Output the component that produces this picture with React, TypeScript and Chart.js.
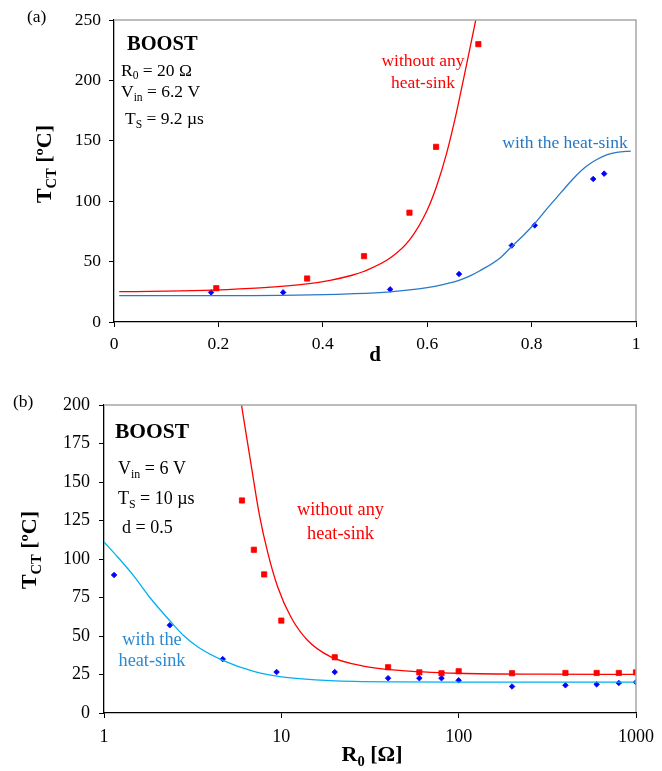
import React, { useEffect, useRef } from "react";
import { Chart, registerables } from "chart.js";
Chart.register(...registerables);

const SERIF = "'Liberation Serif', 'Times New Roman', Times, serif";

// ---------- Panel (a) data ----------
const A_X_TICKS = [0, 0.2, 0.4, 0.6, 0.8, 1];
const A_Y_TICKS = [0, 50, 100, 150, 200, 250];
const A_RED_PTS_D = [0.196, 0.37, 0.479, 0.566, 0.617, 0.698];
const A_RED_PTS_T = [28, 36, 54.5, 90.5, 145, 230];
const A_BLUE_PTS_D = [0.186, 0.324, 0.529, 0.661, 0.762, 0.806, 0.918, 0.939];
const A_BLUE_PTS_T = [24.5, 24.5, 27, 39.7, 63.3, 80, 118.4, 122.8];
const A_RED_CURVE_D = [0.01, 0.1, 0.19, 0.28, 0.37, 0.414, 0.456, 0.478, 0.529, 0.567, 0.599, 0.618, 0.637, 0.656, 0.672, 0.693];
const A_RED_CURVE_T = [25.1, 25.5, 26.4, 28.2, 31.5, 34.5, 38.7, 41.8, 52.9, 68.4, 91.7, 112.4, 139.4, 173.4, 206, 250];
const A_BLUE_CURVE_D = [0.01, 0.2, 0.35, 0.45, 0.529, 0.6, 0.63, 0.661, 0.68, 0.7, 0.739, 0.762, 0.785, 0.806, 0.83, 0.848, 0.866, 0.886, 0.905, 0.925, 0.945, 0.963, 0.99];
const A_BLUE_CURVE_T = [21.8, 21.8, 22.2, 23.3, 25, 28.5, 31, 34.5, 37.7, 42.2, 52.8, 62.5, 72, 81.5, 94, 103, 112, 121.5, 129, 134.5, 138.5, 140.5, 141.5];

// ---------- Panel (b) data ----------
const B_X_TICKS = [1, 10, 100, 1000];
const B_Y_TICKS = [0, 25, 50, 75, 100, 125, 150, 175, 200];
const B_RED_PTS_R = [6, 7, 8, 10, 20, 40, 60, 80, 100, 200, 400, 600, 800, 1000];
const B_RED_PTS_T = [138, 106, 90, 60, 36.2, 29.7, 26.4, 25.8, 27.1, 25.8, 26, 26, 26, 26.4];
const B_BLUE_PTS_R = [1.14, 2.35, 4.67, 9.4, 20, 40, 60, 80, 100, 200, 400, 600, 800, 1000];
const B_BLUE_PTS_T = [89.6, 57, 35, 26.6, 26.6, 22.6, 22.6, 22.6, 21.2, 17.2, 18, 18.6, 19.5, 19.9];
const B_RED_CURVE_R = [5.96, 6.78, 7.54, 8.39, 9.53, 11.3, 14, 18.9, 29, 44.4, 100, 300, 1000];
const B_RED_CURVE_T = [200, 160, 128, 104, 82, 62.5, 47.4, 36.6, 30.5, 27.9, 25.8, 25.2, 25.1];
const B_BLUE_CURVE_R = [1, 1.2, 1.46, 1.8, 2.33, 2.8, 3.42, 4.71, 7.07, 10, 18.9, 44.4, 100, 1000];
const B_BLUE_CURVE_T = [111, 101, 89.5, 75.5, 60.4, 50.5, 42.5, 34, 26.8, 23.5, 21, 20.2, 20.1, 20];

type Seg = { t: string; sub?: boolean };

function drawRich(
  ctx: CanvasRenderingContext2D,
  segs: Seg[],
  x: number,
  y: number,
  size: number,
  bold: boolean,
  align: "left" | "center",
  color: string
) {
  const b = bold ? "bold " : "";
  const subSize = size * 0.66;
  const fontFor = (s: Seg) => `${b}${s.sub ? subSize : size}px ${SERIF}`;
  let total = 0;
  const widths = segs.map((s) => {
    ctx.font = fontFor(s);
    const w = ctx.measureText(s.t).width;
    total += w;
    return w;
  });
  let cx = align === "center" ? x - total / 2 : x;
  ctx.fillStyle = color;
  ctx.textAlign = "left";
  ctx.textBaseline = "alphabetic";
  segs.forEach((s, i) => {
    ctx.font = fontFor(s);
    ctx.fillText(s.t, cx, s.sub ? y + size * 0.22 : y);
    cx += widths[i];
  });
}

function drawFrame(chart: any) {
  const { ctx, chartArea } = chart;
  ctx.save();
  ctx.strokeStyle = "#A6A6A6";
  ctx.lineWidth = 1.5;
  ctx.beginPath();
  ctx.moveTo(chartArea.left + 1, chartArea.top);
  ctx.lineTo(chartArea.right, chartArea.top);
  ctx.lineTo(chartArea.right, chartArea.bottom - 1);
  ctx.stroke();
  ctx.restore();
}

const pts = (xs: number[], ys: number[]) => xs.map((x, i) => ({ x, y: ys[i] }));

function lineDs(xs: number[], ys: number[], color: string) {
  return {
    data: pts(xs, ys),
    showLine: true,
    pointRadius: 0,
    borderColor: color,
    borderWidth: 1.3,
    cubicInterpolationMode: "monotone",
    fill: false,
  };
}
function redPts(xs: number[], ys: number[]) {
  return {
    data: pts(xs, ys),
    showLine: false,
    pointStyle: "rect",
    pointRadius: 3.7,
    backgroundColor: "#FF0000",
    borderColor: "#FF0000",
    borderWidth: 0.8,
  };
}
function bluePts(xs: number[], ys: number[]) {
  return {
    data: pts(xs, ys),
    showLine: false,
    pointStyle: "rectRot",
    pointRadius: 2.8,
    backgroundColor: "#0000FF",
    borderColor: "#0000FF",
    borderWidth: 0.8,
  };
}

function axisCommon(size: number, padding: number) {
  return {
    ticks: { font: { family: SERIF, size }, color: "#000", padding },
    grid: { drawOnChartArea: false, drawTicks: true, tickLength: 5, color: "#000", lineWidth: 1 },
    border: { display: true, color: "#000", width: 1.3 },
  };
}

function configA(): any {
  const fmt = (v: any) => String(Math.round(Number(v) * 10) / 10);
  return {
    type: "scatter",
    data: {
      datasets: [
        lineDs(A_RED_CURVE_D, A_RED_CURVE_T, "#FF0000"),
        lineDs(A_BLUE_CURVE_D, A_BLUE_CURVE_T, "#2878C8"),
        redPts(A_RED_PTS_D, A_RED_PTS_T),
        bluePts(A_BLUE_PTS_D, A_BLUE_PTS_T),
      ],
    },
    options: {
      responsive: false,
      animation: false,
      devicePixelRatio: 1,
      events: [],
      layout: { padding: { left: 0, right: 26, top: 20, bottom: 0 } },
      plugins: { legend: { display: false }, tooltip: { enabled: false } },
      scales: {
        x: {
          type: "linear",
          min: 0,
          max: 1,
          ...axisCommon(17.5, 7),
          afterBuildTicks: (s: any) => {
            s.ticks = A_X_TICKS.map((v) => ({ value: v }));
          },
          ticks: { ...axisCommon(17.5, 7).ticks, callback: fmt },
          afterFit: (s: any) => {
            s.height = 50;
          },
        },
        y: {
          type: "linear",
          min: 0,
          max: 250,
          ...axisCommon(17.5, 8),
          afterBuildTicks: (s: any) => {
            s.ticks = A_Y_TICKS.map((v) => ({ value: v }));
          },
          ticks: { ...axisCommon(17.5, 8).ticks, callback: (v: any) => String(v) },
          afterFit: (s: any) => {
            s.width = 114;
          },
        },
      },
    },
    plugins: [
      {
        id: "annA",
        afterDraw: (chart: any) => {
          drawFrame(chart);
          const ctx = chart.ctx as CanvasRenderingContext2D;
          ctx.save();
          drawRich(ctx, [{ t: "(a)" }], 27, 22, 17.5, false, "left", "#000");
          drawRich(ctx, [{ t: "BOOST" }], 127, 50, 20.5, true, "left", "#000");
          drawRich(ctx, [{ t: "R" }, { t: "0", sub: true }, { t: " = 20 Ω" }], 121, 75.5, 17.5, false, "left", "#000");
          drawRich(ctx, [{ t: "V" }, { t: "in", sub: true }, { t: " = 6.2 V" }], 121, 97, 17.5, false, "left", "#000");
          drawRich(ctx, [{ t: "T" }, { t: "S", sub: true }, { t: " = 9.2 µs" }], 125, 124, 17.5, false, "left", "#000");
          drawRich(ctx, [{ t: "without any" }], 423, 65.5, 17.5, false, "center", "#FF0000");
          drawRich(ctx, [{ t: "heat-sink" }], 423, 87.5, 17.5, false, "center", "#FF0000");
          drawRich(ctx, [{ t: "with the heat-sink" }], 565, 148, 17.5, false, "center", "#2477C6");
          drawRich(ctx, [{ t: "d" }], 375, 361, 21, true, "center", "#000");
          ctx.translate(51, 164);
          ctx.rotate(-Math.PI / 2);
          drawRich(ctx, [{ t: "T" }, { t: "CT", sub: true }, { t: " [ºC]" }], 0, 0, 22, true, "center", "#000");
          ctx.restore();
        },
      },
    ],
  };
}

function configB(): any {
  const TOP = 372;
  return {
    type: "scatter",
    data: {
      datasets: [
        lineDs(B_RED_CURVE_R, B_RED_CURVE_T, "#FF0000"),
        lineDs(B_BLUE_CURVE_R, B_BLUE_CURVE_T, "#00B0F0"),
        redPts(B_RED_PTS_R, B_RED_PTS_T),
        bluePts(B_BLUE_PTS_R, B_BLUE_PTS_T),
      ],
    },
    options: {
      responsive: false,
      animation: false,
      devicePixelRatio: 1,
      events: [],
      layout: { padding: { left: 0, right: 19, top: 33, bottom: 0 } },
      plugins: { legend: { display: false }, tooltip: { enabled: false } },
      scales: {
        x: {
          type: "logarithmic",
          min: 1,
          max: 1000,
          ...axisCommon(18, 8),
          afterBuildTicks: (s: any) => {
            s.ticks = B_X_TICKS.map((v) => ({ value: v }));
          },
          ticks: { ...axisCommon(18, 8).ticks, callback: (v: any) => String(v) },
          afterFit: (s: any) => {
            s.height = 58;
          },
        },
        y: {
          type: "linear",
          min: 0,
          max: 200,
          ...axisCommon(18, 9),
          afterBuildTicks: (s: any) => {
            s.ticks = B_Y_TICKS.map((v) => ({ value: v }));
          },
          ticks: { ...axisCommon(18, 9).ticks, callback: (v: any) => String(v) },
          afterFit: (s: any) => {
            s.width = 104;
          },
        },
      },
    },
    plugins: [
      {
        id: "annB",
        afterDraw: (chart: any) => {
          drawFrame(chart);
          const ctx = chart.ctx as CanvasRenderingContext2D;
          ctx.save();
          drawRich(ctx, [{ t: "(b)" }], 13, 407 - TOP, 17.5, false, "left", "#000");
          drawRich(ctx, [{ t: "BOOST" }], 115, 438 - TOP, 21.5, true, "left", "#000");
          drawRich(ctx, [{ t: "V" }, { t: "in", sub: true }, { t: " = 6 V" }], 118, 474 - TOP, 18, false, "left", "#000");
          drawRich(ctx, [{ t: "T" }, { t: "S", sub: true }, { t: " = 10 µs" }], 118, 504 - TOP, 18, false, "left", "#000");
          drawRich(ctx, [{ t: "d = 0.5" }], 122, 533 - TOP, 18, false, "left", "#000");
          drawRich(ctx, [{ t: "without any" }], 340.5, 515 - TOP, 18.3, false, "center", "#FF0000");
          drawRich(ctx, [{ t: "heat-sink" }], 340.5, 539 - TOP, 18.3, false, "center", "#FF0000");
          drawRich(ctx, [{ t: "with the" }], 152, 645 - TOP, 18.3, false, "center", "#2C8AD2");
          drawRich(ctx, [{ t: "heat-sink" }], 152, 666 - TOP, 18.3, false, "center", "#2C8AD2");
          drawRich(ctx, [{ t: "R" }, { t: "0", sub: true }, { t: " [Ω]" }], 372, 761 - TOP, 22, true, "center", "#000");
          ctx.translate(36, 550 - TOP);
          ctx.rotate(-Math.PI / 2);
          drawRich(ctx, [{ t: "T" }, { t: "CT", sub: true }, { t: " [ºC]" }], 0, 0, 22, true, "center", "#000");
          ctx.restore();
        },
      },
    ],
  };
}

function ChartCanvas({ make, width, height, top }: { make: () => any; width: number; height: number; top: number }) {
  const ref = useRef<HTMLCanvasElement>(null);
  useEffect(() => {
    const chart = new Chart(ref.current as HTMLCanvasElement, make());
    return () => chart.destroy();
  }, []);
  return (
    <canvas
      ref={ref}
      width={width}
      height={height}
      style={{ position: "absolute", left: 0, top, width, height, display: "block" }}
    />
  );
}

export default function App() {
  return (
    <div style={{ position: "absolute", left: 0, top: 0, width: 662, height: 771, background: "#fff" }}>
      <ChartCanvas make={configA} width={662} height={372} top={0} />
      <ChartCanvas make={configB} width={662} height={399} top={372} />
    </div>
  );
}
